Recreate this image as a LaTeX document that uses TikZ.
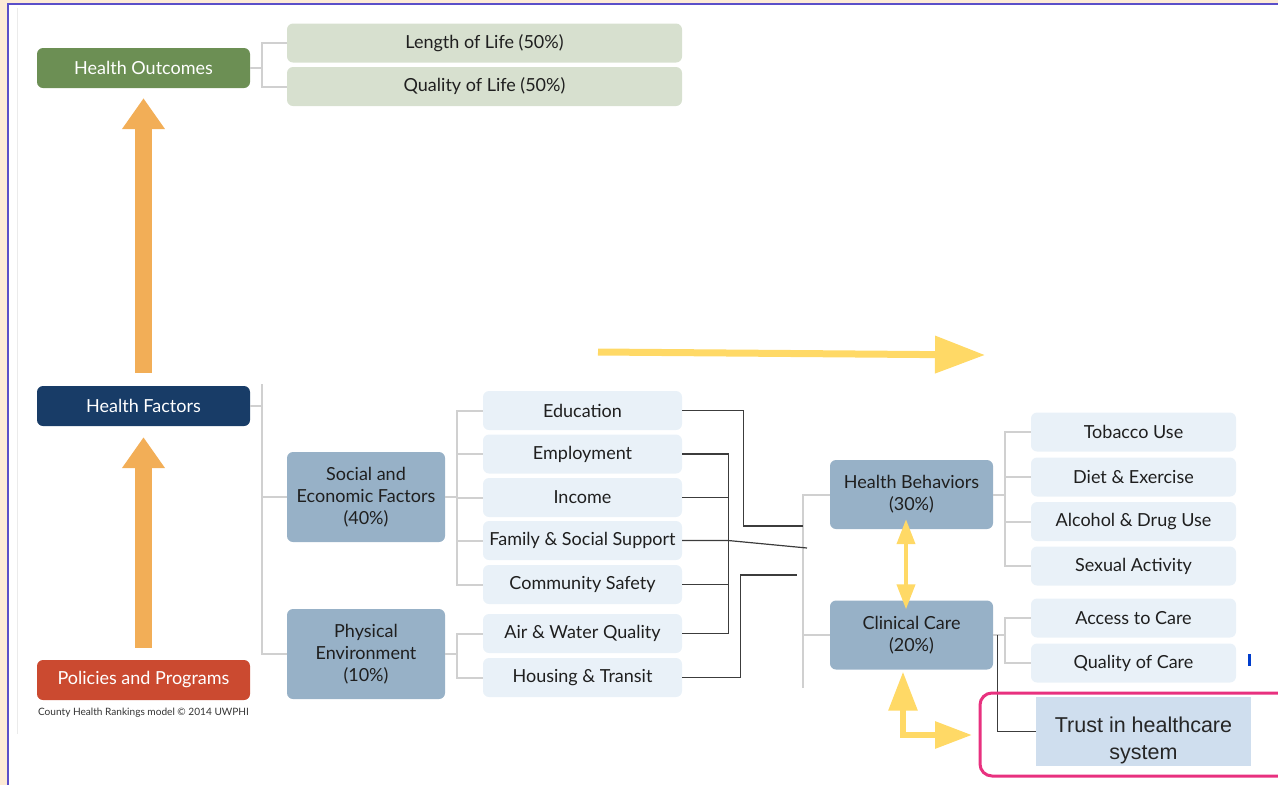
\documentclass[tikz,border=0pt]{standalone}
\usepackage{fontspec}
\setmainfont{Lato}
\newfontfamily\arialfont{Liberation Sans}
\usetikzlibrary{arrows.meta}

\definecolor{outgreen}{RGB}{108,143,84}
\definecolor{lightgreen}{RGB}{215,224,207}
\definecolor{navy}{RGB}{24,60,103}
\definecolor{policyred}{RGB}{203,74,48}
\definecolor{steel}{RGB}{151,177,199}
\definecolor{paleblue}{RGB}{233,241,248}
\definecolor{trustblue}{RGB}{207,222,238}
\definecolor{treegray}{RGB}{208,208,208}
\definecolor{linkgray}{RGB}{60,60,60}
\definecolor{orangearrow}{RGB}{242,174,87}
\definecolor{yellowarrow}{RGB}{255,217,102}
\definecolor{pinkframe}{RGB}{232,49,127}
\definecolor{framepurple}{RGB}{91,79,201}
\definecolor{peach}{RGB}{253,235,214}

\begin{document}
\begin{tikzpicture}[x=1pt,y=-1pt]
    \pgfmathsetmacro{\leftw}{213}
    \pgfmathsetmacro{\midw}{199}
    \pgfmathsetmacro{\rightw}{205}
    \pgfmathsetmacro{\groupw}{158}
    \tikzset{
        box/.style={rounded corners=6pt,inner sep=0pt,align=center,font=\fontsize{18}{22}\selectfont,text=black!88},
        topbox/.style={box,fill=#1,text=white,minimum width=\leftw,minimum height=40},
        subbox/.style={box,fill=lightgreen,minimum width=395,minimum height=39},
        groupbox/.style={box,fill=steel,minimum width=\groupw,minimum height=90},
        carebox/.style={box,fill=steel,minimum width=163,minimum height=69},
        itembox/.style={box,fill=paleblue,minimum width=#1,minimum height=39},
        tree/.style={draw=treegray,line width=2pt},
        link/.style={draw=linkgray,line width=1.2pt},
        oarrow/.style={draw=orangearrow,line width=17pt,-{Triangle[length=31pt,width=41pt]}},
        yarrow/.style={draw=yellowarrow,line width=#1,line join=miter}
    }
    \useasboundingbox (0,0) rectangle (1278,785);
    % frame of the screenshot
    \fill[peach] (0,0) rectangle (7,785);
    \fill[peach] (0,0) rectangle (1278,2.5);
    \draw[framepurple,line width=2pt] (7.5,785) -- (7.5,3.5) -- (1278,3.5);
    \draw[black!8,line width=1pt] (17,8) -- (17,734);

    \node[topbox=outgreen] (ho) at (143.5,68) {Health Outcomes};
    \node[subbox] (lol) at (484.5,43) {Length of Life (50\%)};
    \node[subbox] (qol) at (484.5,86.5) {Quality of Life (50\%)};
    \node[topbox=navy] (hf) at (143.5,406) {Health Factors};
    \node[topbox=policyred] (pp) at (143.5,680) {Policies and Programs};
    \node[font=\fontsize{10.1}{12}\selectfont,text=black!80,inner sep=0pt] (cap) at (143.5,713) {County Health Rankings model © 2014 UWPHI};

    \node[groupbox] (sef) at (366,497) {Social and\\Economic Factors\\(40\%)};
    \node[groupbox] (phy) at (366,654) {Physical\\Environment\\(10\%)};
    \node[itembox=\midw] (edu) at (582.5,410.5) {Education};
    \node[itembox=\midw] (emp) at (582.5,454) {Employment};
    \node[itembox=\midw] (inc) at (582.5,497.5) {Income};
    \node[itembox=\midw] (fam) at (582.5,540.5) {Family \& Social Support};
    \node[itembox=\midw] (cs) at (582.5,584.5) {Community Safety};
    \node[itembox=\midw] (air) at (582.5,633.5) {Air \& Water Quality};
    \node[itembox=\midw] (hou) at (582.5,677.5) {Housing \& Transit};

    \node[carebox] (hb) at (911.5,494.5) {Health Behaviors\\(30\%)};
    \node[carebox] (cc) at (911.5,635) {Clinical Care\\(20\%)};
    \node[itembox=\rightw] (tob) at (1133.5,432) {Tobacco Use};
    \node[itembox=\rightw] (die) at (1133.5,477) {Diet \& Exercise};
    \node[itembox=\rightw] (alc) at (1133.5,521.5) {Alcohol \& Drug Use};
    \node[itembox=\rightw] (sex) at (1133.5,566) {Sexual Activity};
    \node[itembox=\rightw] (acc) at (1133.5,618) {Access to Care};
    \node[itembox=\rightw] (qoc) at (1133.5,663) {Quality of Care};
    \node[fill=trustblue,minimum width=215,minimum height=69,inner sep=0pt,
          label={[align=center,yshift=-9pt,text=black!85,font=\arialfont\fontsize{21.5}{27}\selectfont]center:Trust in healthcare\\system}]
          (trust) at (1143.5,731.5) {};

    \coordinate (careroot) at (803,688);
    \coordinate (j1) at (803,526);
    \coordinate (j2) at (807,548);
    \coordinate (j3) at (797,575);
    \coordinate (ytail) at (598,352);
    \coordinate (yhead) at (985,355);
    \coordinate (ytip) at (972,735);

    % gray tree
    \draw[tree] (ho.east) -- ++(12,0) |- (lol.west);
    \draw[tree] (ho.east) -- ++(12,0) |- (qol.west);
    \draw[tree] (hf.east) -- ++(12,0) -- ++(0,-22);
    \draw[tree] (hf.east) -- ++(12,0) |- (sef.west);
    \draw[tree] (hf.east) -- ++(12,0) |- (phy.west);
    \foreach \n in {edu,emp,inc,fam,cs}
        \draw[tree] (sef.east) -- ++(12,0) |- (\n.west);
    \foreach \n in {air,hou}
        \draw[tree] (phy.east) -- ++(12,0) |- (\n.west);
    \draw[tree] (careroot) |- (hb.west);
    \draw[tree] (careroot) |- (cc.west);
    \foreach \n in {tob,die,alc,sex}
        \draw[tree] (hb.east) -- ++(12,0) |- (\n.west);
    \foreach \n in {acc,qoc}
        \draw[tree] (cc.east) -- ++(12,0) |- (\n.west);

    % hand drawn links
    \draw[link] (edu.east) -- ++(61,0) |- (j1);
    \draw[link] (emp.east) -- ++(46,0) |- (air.east);
    \draw[link] (inc.east) -- ++(46,0);
    \draw[link] (cs.east) -- ++(46,0);
    \draw[link] (fam.east) -- ++(46,0) -- (j2);
    \draw[link] (hou.east) -- ++(58,0) |- (j3);
    \draw[link] ([xshift=4pt]cc.east) |- (trust.west);

    % arrows
    \draw[oarrow] ([yshift=13pt]hf.north) -- ([yshift=-10pt]ho.south);
    \draw[oarrow] ([yshift=12pt]pp.north) -- ([yshift=-11pt]hf.south);
    \draw[yarrow=7pt,-{Triangle[length=50pt,width=36pt]}] (ytail) -- (yhead);
    \draw[yarrow=4pt,{Triangle[length=25pt,width=18pt]}-{Triangle[length=25pt,width=18pt]}]
        ([xshift=-5.5pt,yshift=10pt]hb.south) -- ([xshift=-5.5pt,yshift=-9pt]cc.north);
    \draw[yarrow=6pt,{Triangle[length=39pt,width=28pt]}-{Triangle[length=37pt,width=26pt]}]
        ([xshift=-8.5pt,yshift=-2pt]cc.south) |- (ytip);

    \draw[pinkframe,line width=3pt,rounded corners=12pt] (980,693) rectangle (1300,776);
    \draw[blue!70!cyan!80!black,line width=3pt] (1249.5,654) -- (1249.5,666);
\end{tikzpicture}
\end{document}
